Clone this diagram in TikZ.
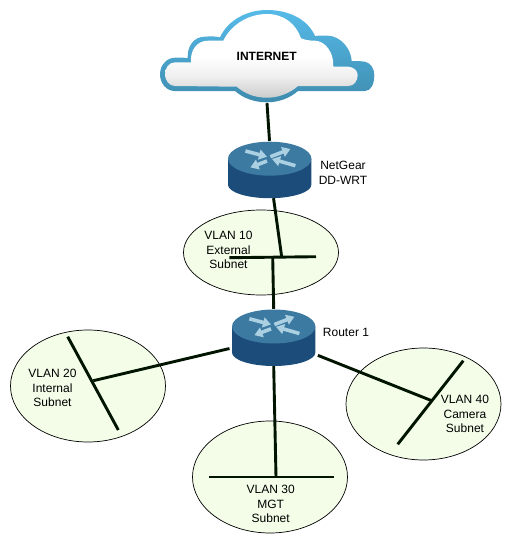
\documentclass[tikz,border=0pt]{standalone}
\usepackage{xcolor}
\usepackage{fontspec}
\setmainfont{Liberation Sans}
\usetikzlibrary{arrows.meta,shapes.geometric}
\definecolor{cloudtop}{RGB}{86,186,232}
\definecolor{cloudlow}{RGB}{62,140,175}
\definecolor{routertop}{RGB}{60,122,162}
\definecolor{routerside}{RGB}{28,76,122}
\definecolor{routerarrow}{RGB}{170,208,226}
\definecolor{subnetfill}{RGB}{243,253,232}
\pgfdeclareverticalshading{cloudface}{100bp}{color(0bp)=(black!20); color(25bp)=(black!20); color(38bp)=(black!6); color(50bp)=(white); color(100bp)=(white)}
\tikzset{
  subnet/.style={draw=black, line width=0.7pt, fill=subnetfill, ellipse, inner sep=0pt, minimum width=155pt},
  wire/.style={line width=2.9pt, color=black!92!green},
  routerbox/.style={inner sep=0pt, minimum width=88pt, minimum height=57pt},
  caption/.style={align=center, font=\fontsize{12}{14.5}\selectfont, inner sep=0pt},
  flow/.style={line width=3.6pt, color=routerarrow, -{Triangle[width=10pt,length=8pt]}},
  pics/routericon/.style={code={
    \fill[routerside] (-41.7,0) -- (-41.7,26) arc[start angle=180, end angle=0, x radius=41.7, y radius=13.5] -- (41.7,0) -- cycle;
    \fill[routertop] (0,0) ellipse[x radius=41.7, y radius=17];
    \draw[flow] (-24.3,-7.7) -- (-2.7,-2);
    \draw[flow] (0.7,-2) -- (20.7,-9.7);
    \draw[flow] (-2.7,2.3) -- (-19.3,8.7);
    \draw[flow] (25.7,7) -- (2.3,0.3);
  }}
}

\begin{document}
\begin{tikzpicture}[x=1pt, y=-1pt]
\useasboundingbox (0,0) rectangle (512,544);

\shade[top color=cloudtop, bottom color=cloudlow] (175,91) .. controls (166,91) and (160,83) .. (160,74.3)
  .. controls (160,65) and (167,57.7) .. (175,57.7) .. controls (180,57.5) and (184,57.5) .. (187.7,58.3)
  .. controls (187,46) and (194,36.5) .. (205,36.7) .. controls (211,36) and (216,36.5) .. (220,37.3)
  .. controls (228,20) and (247,10) .. (267,10) .. controls (290,10) and (308,20) .. (315,36)
  .. controls (320,35.5) and (324,35.5) .. (328,35.7) .. controls (340,36) and (351,48) .. (351.7,61)
  .. controls (356,61) and (360,61) .. (365,61.7) .. controls (371,63) and (374.3,69) .. (374.3,75)
  .. controls (374.3,84) and (371,91) .. (365,91) -- (298,91)
  .. controls (290,98) and (279,102.3) .. (267,102.3) .. controls (254,102.3) and (243,98) .. (235,91) -- cycle;
\shade[shading=cloudface] (175,86) .. controls (169,86) and (165,80) .. (165,74.3)
  .. controls (165,68) and (169,62.3) .. (175,62.3) -- (191,62.3)
  .. controls (190,50) and (197,40.7) .. (208,40.7) -- (223.3,40.7)
  .. controls (231,25) and (248,14) .. (267,14) .. controls (284,14) and (296,24) .. (301,38.3)
  .. controls (305,40) and (310,40.7) .. (315,40.7) .. controls (325,41) and (334,52) .. (333.3,66.7)
  -- (348.3,66.7) .. controls (354,67) and (357.7,71) .. (357.7,75) .. controls (357.7,81) and (354,86) .. (348.3,86)
  -- (298,86) .. controls (290,93) and (279,97.7) .. (267,97.7) .. controls (254,97.7) and (244,93) .. (236.7,86.7) -- cycle;

\node[subnet, minimum height=85pt] (vlan10) at (261,252.5) {};
\node[subnet, minimum height=112pt] (vlan20) at (88,386) {};
\node[subnet, minimum height=112pt] (vlan30) at (270,477) {};
\node[subnet, minimum height=112pt] (vlan40) at (423.5,404) {};

\pic at (269.7,158.7) {routericon};
\pic at (273.7,326.5) {routericon};

\node[inner sep=0pt, minimum width=216pt, minimum height=92pt] (internet) at (267,57) {};
\node[font=\fontsize{12}{14}\bfseries, inner sep=0pt] (internettext) at (266.7,56.7) {INTERNET};
\node[routerbox] (netgear) at (269.5,169.5) {};
\node[routerbox] (router1) at (273.7,337.5) {};

\coordinate (bus10a) at (229.3,257.7);
\coordinate (bus10b) at (316,256.7);
\coordinate (tap10up) at (281.7,257);
\coordinate (tap10low) at (272.7,257.4);
\coordinate (bus20a) at (67.7,336.7);
\coordinate (bus20b) at (118.3,430);
\coordinate (tap20) at (93.3,380.7);
\coordinate (bus30a) at (209,477);
\coordinate (bus30b) at (334,477);
\coordinate (tap30) at (276,477);
\coordinate (bus40a) at (463.3,360.7);
\coordinate (bus40b) at (397.7,444.3);
\coordinate (tap40) at (431.7,400.7);

\draw[wire] (internet.south) -- (netgear.north);
\draw[wire] (netgear.-82) -- (tap10up);
\draw[wire] (bus10a) -- (bus10b);
\draw[wire] (tap10low) -- (router1.north);
\draw[wire] (router1.194.4) -- (tap20);
\draw[wire] (bus20a) -- (bus20b);
\draw[wire] (router1.south) -- (tap30);
\draw[wire] (bus30a) -- (bus30b);
\draw[wire] (router1.-22.2) -- (tap40);
\draw[wire] (bus40a) -- (bus40b);

\node[caption] (netgearlabel) at (343,173) {NetGear\\DD-WRT};
\node[caption] (router1label) at (346,332.7) {Router 1};
\node[caption] (vlan10label) at (228.5,250) {VLAN 10\\External\\Subnet};
\node[caption] (vlan20label) at (52.5,388) {VLAN 20\\Internal\\Subnet};
\node[caption] (vlan30label) at (270.7,504) {VLAN 30\\MGT\\Subnet};
\node[caption] (vlan40label) at (465,414) {VLAN 40\\Camera\\Subnet};
\end{tikzpicture}
\end{document}
